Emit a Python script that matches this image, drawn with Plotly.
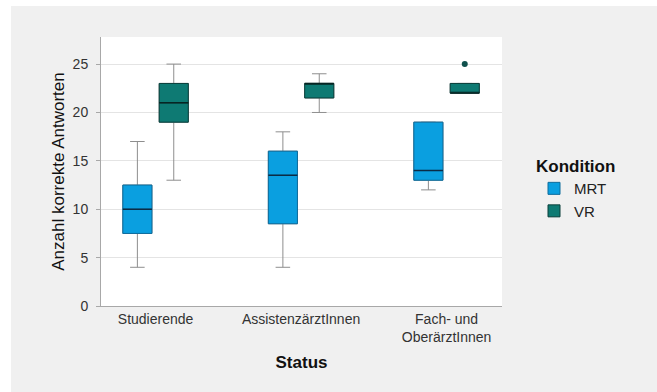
import plotly.graph_objects as go

# Status groups on the x axis
categories = ["Studierende", "AssistenzärztInnen", "Fach- und<br>OberärztInnen"]

# Box statistics per status group: condition MRT
mrt_lower = [4, 4, 12]
mrt_q1 = [7.5, 8.5, 13]
mrt_median = [10, 13.5, 14]
mrt_q3 = [12.5, 16, 19]
mrt_upper = [17, 18, 19]

# Box statistics per status group: condition VR
vr_lower = [13, 20, 22]
vr_q1 = [19, 21.5, 22]
vr_median = [21, 23, 22]
vr_q3 = [23, 23, 23]
vr_upper = [25, 24, 23]

# Outlying values (index of status group, value)
vr_outlier_group = [2]
vr_outlier_value = [25]

y_ticks = [0, 5, 10, 15, 20, 25]

# ---- layout constants ----
W, H = 657, 392
ML, MR, MT, MB = 101, 155, 37, 86
PW, PH = W - ML - MR, H - MT - MB
FONT = "Liberation Sans, Arial, Helvetica, sans-serif"
BOX_W = 0.2
WHISKER = "#8e8e8e"
AXIS = "#a8a8a8"

series = [
    dict(name="MRT", lower=mrt_lower, q1=mrt_q1, median=mrt_median, q3=mrt_q3,
         upper=mrt_upper, fill="#0a9fe0", edge="#0d6c9c", mid="#0b2b45", offset=-0.125),
    dict(name="VR", lower=vr_lower, q1=vr_q1, median=vr_median, q3=vr_q3,
         upper=vr_upper, fill="#0e7a73", edge="#0a3f3b", mid="#072523", offset=0.125),
]

fig = go.Figure()

for s in series:
    pos = [i + s["offset"] for i in range(len(categories))]
    common = dict(x=pos, width=BOX_W, legendgroup=s["name"], hoverinfo="skip",
                  boxpoints=False)
    # whiskers and filled box (gray whisker lines)
    fig.add_trace(go.Box(
        q1=s["q1"], median=s["median"], q3=s["q3"],
        lowerfence=s["lower"], upperfence=s["upper"],
        whiskerwidth=0.5, fillcolor=s["fill"],
        line=dict(color=WHISKER, width=1), showlegend=False, name=s["name"], **common))
    # box outline in the darker condition colour
    fig.add_trace(go.Box(
        q1=s["q1"], median=s["median"], q3=s["q3"],
        lowerfence=s["q1"], upperfence=s["q3"],
        whiskerwidth=0, fillcolor=s["fill"],
        line=dict(color=s["edge"], width=1), showlegend=True, name=s["name"], **common))
    # median line
    fig.add_trace(go.Box(
        q1=s["median"], median=s["median"], q3=s["median"],
        lowerfence=s["median"], upperfence=s["median"],
        whiskerwidth=0, fillcolor="rgba(0,0,0,0)",
        line=dict(color=s["mid"], width=1.5), showlegend=False, name=s["name"], **common))

vr_offset = series[1]["offset"]
fig.add_trace(go.Scatter(
    x=[g + vr_offset for g in vr_outlier_group], y=vr_outlier_value,
    mode="markers", marker=dict(color="#0f504c", size=6),
    legendgroup="VR", showlegend=False, hoverinfo="skip"))

# white strips along the top and left page edges
def px_x(p):
    return (p - ML) / PW

def px_y(p):
    return (H - MB - p) / PH

shapes = [
    dict(type="rect", xref="paper", yref="paper", layer="below",
         x0=px_x(0), x1=px_x(11), y0=px_y(H), y1=px_y(0),
         fillcolor="white", line=dict(width=0)),
    dict(type="rect", xref="paper", yref="paper", layer="below",
         x0=px_x(0), x1=px_x(W), y0=px_y(6), y1=px_y(0),
         fillcolor="white", line=dict(width=0)),
]

fig.update_layout(
    width=W, height=H,
    margin=dict(l=ML, r=MR, t=MT, b=MB, autoexpand=False),
    paper_bgcolor="#f0f0f0", plot_bgcolor="white",
    font=dict(family=FONT, color="#333333", size=14),
    boxmode="overlay",
    shapes=shapes,
    showlegend=True,
    legend=dict(
        title=dict(text="<b>Kondition</b>", font=dict(size=17, color="#111111")),
        font=dict(size=15, color="#222222"),
        tracegroupgap=0,
        x=px_x(534), xanchor="left", y=px_y(150), yanchor="top",
        bgcolor="rgba(0,0,0,0)", itemclick=False, itemdoubleclick=False,
    ),
    xaxis=dict(
        range=[-0.375, 2.381], tickmode="array",
        tickvals=list(range(len(categories))), ticktext=categories,
        showgrid=False, zeroline=False, showline=True, linecolor=AXIS, linewidth=1,
        ticks="", tickfont=dict(size=14, color="#333333"),
        title=dict(text="<b>Status</b>", font=dict(size=17, color="#111111"), standoff=12),
        automargin=False, fixedrange=True,
    ),
    yaxis=dict(
        range=[0, 27.8], tickmode="array", tickvals=y_ticks,
        showgrid=True, gridcolor="#e4e4e4", gridwidth=1,
        zeroline=False, showline=True, linecolor=AXIS, linewidth=1,
        ticks="outside", ticklen=4, tickcolor=AXIS, ticklabelstandoff=5,
        tickfont=dict(size=14, color="#333333"),
        title=dict(text="Anzahl korrekte Antworten", font=dict(size=17, color="#111111"),
                   standoff=3),
        automargin=False, fixedrange=True,
    ),
)

fig.write_html("out.html", config={"displayModeBar": False})
